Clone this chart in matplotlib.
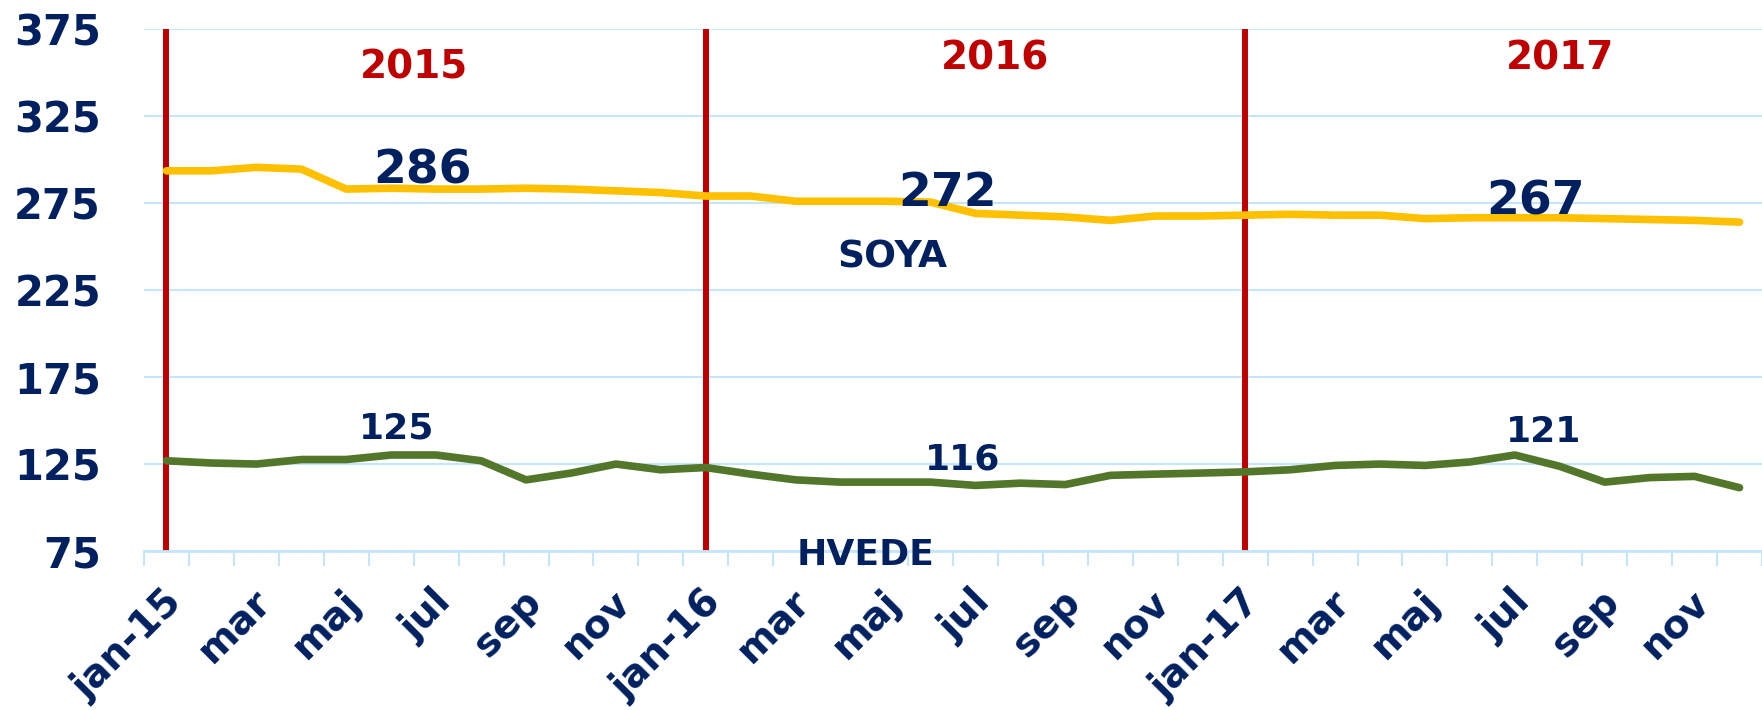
import matplotlib
matplotlib.use("Agg")
import matplotlib.pyplot as plt
import matplotlib.transforms as mtransforms
import numpy as np

# monthly prices jan-15 .. dec-17
months = ['jan-15', 'feb', 'mar', 'apr', 'maj', 'jun', 'jul', 'aug', 'sep', 'okt', 'nov', 'dec',
          'jan-16', 'feb', 'mar', 'apr', 'maj', 'jun', 'jul', 'aug', 'sep', 'okt', 'nov', 'dec',
          'jan-17', 'feb', 'mar', 'apr', 'maj', 'jun', 'jul', 'aug', 'sep', 'okt', 'nov', 'dec']
soya = [293.5, 293.5, 295.5, 294.5, 283, 283.5, 283, 283, 283.5, 283, 282, 281,
        279, 279, 276, 276, 276, 275.5, 269, 268, 267, 265, 267.5, 267.5,
        268, 268.5, 268, 268, 266, 266.5, 266.5, 266.5, 266, 265.5, 265, 264]
hvede = [126.7, 125.4, 124.8, 127.4, 127.4, 130, 130, 126.7, 115.7, 119.6, 124.8, 121.5,
         122.8, 119, 115.7, 114.4, 114.4, 114.4, 112.5, 113.8, 113, 118.3, 119, 119.6,
         120.3, 121.5, 124, 124.8, 124, 126, 130, 123.5, 114.4, 117, 117.7, 111.2]
years = ['2015', '2016', '2017']
soya_avg = ['286', '272', '267']
hvede_avg = ['125', '116', '121']
yticks = [75, 125, 175, 225, 275, 325, 375]

navy = '#002060'
red = '#C00000'
grid_c = '#C5E6FA'

fig = plt.figure(figsize=(17.62, 7.1), dpi=100)
ax = fig.add_axes([144/1762, 0.2245, 1 - 144/1762, 0.9589 - 0.2245])

x = np.arange(len(months))
for i in range(0, len(months), 12):
    ax.axvline(i, color=red, lw=4.3, zorder=2)
ax.plot(x, soya, color='#FFC000', lw=5.5, solid_capstyle='round', solid_joinstyle='round', zorder=3)
ax.plot(x, hvede, color='#53772A', lw=5.5, solid_capstyle='round', solid_joinstyle='round', zorder=3)

ax.set_xlim(-0.5, 35.3)
ax.set_ylim(75, 375)
ax.set_yticks(yticks)
ax.set_yticklabels([str(v) for v in yticks], fontsize=30, fontweight='heavy', color=navy)
ax.tick_params(axis='y', length=0, pad=31)
ax.yaxis.grid(True, color=grid_c, lw=1.5, zorder=0)
ax.set_axisbelow(True)

# boundary ticks between months, labels every 2nd month
ax.set_xticks(np.arange(-0.5, 36, 1.0))
ax.set_xticklabels([])
ax.tick_params(axis='x', which='major', length=11, width=1.5, color=grid_c)
ax.set_xticks(x[::2], minor=True)
ax.set_xticklabels(months[::2], minor=True, rotation=45, ha='right', va='center',
                   rotation_mode='anchor', fontsize=28, fontweight='heavy', color=navy)
ax.tick_params(axis='x', which='minor', length=0, pad=30)
shift = mtransforms.ScaledTranslation(9/100, -4/100, fig.dpi_scale_trans)
for lab in ax.get_xticklabels(minor=True):
    lab.set_transform(lab.get_transform() + shift)

for s in ['top', 'right', 'left']:
    ax.spines[s].set_visible(False)
ax.spines['bottom'].set_color(grid_c)
ax.spines['bottom'].set_linewidth(2)

# annotations
year_pos = [(5.5, 353), (18.44, 358), (31.0, 358)]
for lab, (px, py) in zip(years, year_pos):
    ax.text(px, py, lab, color=red, fontsize=28, fontweight='bold', ha='center', va='center')
soya_pos = [(5.69, 293.5), (17.37, 280.6), (30.47, 275.4)]
for lab, (px, py) in zip(soya_avg, soya_pos):
    ax.text(px, py, lab, color=navy, fontsize=34, fontweight='bold', ha='center', va='center', zorder=4)
hvede_pos = [(5.11, 145.5), (17.72, 127.4), (30.65, 143.5)]
for lab, (px, py) in zip(hvede_avg, hvede_pos):
    ax.text(px, py, lab, color=navy, fontsize=26, fontweight='bold', ha='center', va='center', zorder=4)
ax.text(16.15, 243.7, 'SOYA', color=navy, fontsize=27, fontweight='bold', ha='center', va='center')
ax.text(15.56, 72.5, 'HVEDE', color=navy, fontsize=26, fontweight='bold', ha='center', va='center',
        clip_on=False, zorder=5)

fig.savefig('out.png', dpi=100)
